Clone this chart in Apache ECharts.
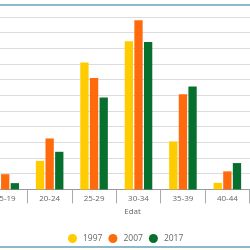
<!DOCTYPE html>
<html>
<head>
<meta charset="utf-8">
<script src="https://cdn.jsdelivr.net/npm/echarts@6/dist/echarts.min.js"></script>
<style>
html,body{margin:0;padding:0;width:250px;height:250px;overflow:hidden;background:#fff;}
#frame{position:absolute;left:0;top:4px;width:250px;height:240px;border-top:2px solid #8cb9cc;border-bottom:2px solid #8cb9cc;pointer-events:none;}
#chart{position:absolute;left:-40px;top:0;width:360px;height:250px;}
</style>
</head>
<body>
<div id="chart"></div>
<div id="frame"></div>
<script>
const categories = ['15-19','20-24','25-29','30-34','35-39','40-44','45-49'];
const seriesNames = ['1997','2007','2017'];
const values1997 = [6, 18.2, 81, 94.5, 30.6, 4.2, 0.3];
const values2007 = [9.7, 32.5, 71, 108, 60.7, 11.5, 0.6];
const values2017 = [4.0, 24, 58.6, 94, 65.6, 16.8, 1.2];
const colors = ['#ffcc00', '#ff6a0d', '#08702f'];
const axisName = 'Edat';

const chart = echarts.init(document.getElementById('chart'), null, {renderer:'canvas'});
const font = '"Open Sans", sans-serif';
const dataSets = [values1997, values2007, values2017];
chart.setOption({
  animation:false,
  color: colors,
  textStyle:{fontFamily:font},
  grid:{left:23, top:17, width:311, height:172.4, containLabel:false},
  legend:{
    data: seriesNames,
    left:103, top:229, padding:5,
    icon:'circle', itemWidth:9, itemHeight:9, itemGap:6,
    textStyle:{fontSize:8.5, color:'#666', fontFamily:font, padding:[0,0,0,1]}
  },
  xAxis:{
    type:'category', data:categories,
    boundaryGap:true,
    name:axisName, nameLocation:'middle', nameGap:18,
    nameTextStyle:{fontSize:8, color:'#666', fontFamily:font, padding:[0,12,0,0]},
    axisLine:{lineStyle:{color:'#999', width:1}},
    axisTick:{show:true, length:14, alignWithLabel:false, lineStyle:{color:'#aaa'}},
    axisLabel:{fontSize:8, color:'#666', margin:5, fontFamily:font}
  },
  yAxis:{
    type:'value', min:0, max:110, interval:10,
    axisLabel:{show:false},
    axisLine:{show:false}, axisTick:{show:false},
    splitLine:{lineStyle:{color:'#dcdcdc', width:1}}
  },
  series: seriesNames.map((n,i)=>({
    name:n, type:'bar', data:dataSets[i],
    barWidth:8.3, barGap:'16%',
    itemStyle:{color:colors[i]}
  }))
});
</script>
</body>
</html>
